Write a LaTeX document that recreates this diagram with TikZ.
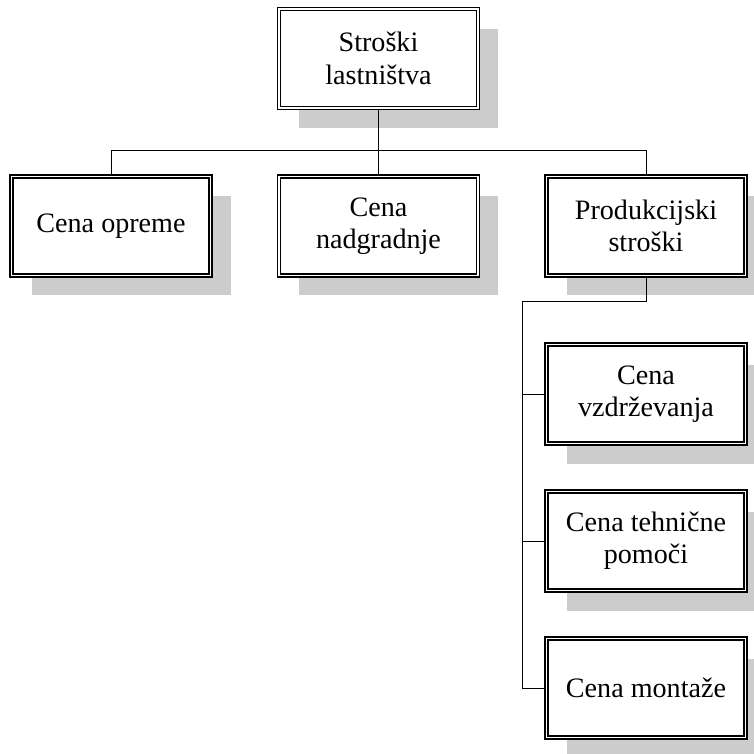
\documentclass[tikz,border=0pt]{standalone}
\usepackage{fontspec}
\setmainfont{Liberation Serif}
\usetikzlibrary{shadows}
\tikzset{kost/.style={draw,double,line width=.65pt,double distance=1.1pt,fill=white,minimum width=3.98cm,minimum height=1.98cm,align=center,font=\fontsize{16}{18.4}\selectfont,drop shadow={shadow xshift=.4cm,shadow yshift=-.4cm,fill=black!20,opacity=1}}}
\begin{document}
\begin{tikzpicture}
\useasboundingbox(0,0)rectangle(15.06,-15.08);
\node[kost](vrh)at(7.57,-1.17){Stroški\\lastništva};
\node[kost](oprema)at(2.22,-4.52){Cena opreme};
\node[kost](nadgr)at(7.57,-4.52){Cena\\nadgradnje};
\node[kost](prod)at(12.92,-4.52){Produkcijski\\stroški};
\node[kost](vzdr)at(12.92,-7.88){Cena\\vzdrževanja};
\node[kost](tehn)at(12.92,-10.82){Cena tehnične\\pomoči};
\node[kost](mont)at(12.92,-13.76){Cena montaže};
\draw(vrh.south)--++(0,-.84)coordinate(razc);
\draw(razc)-|(oprema.north);
\draw(razc)-|(prod.north);
\draw(razc)--(nadgr.north);
\draw(prod.south)--++(0,-.5)-|([xshift=-.48cm]vzdr.west)coordinate(deblo)--(vzdr.west);
\draw(deblo)|-(tehn.west);
\draw(deblo)|-(mont.west);
\end{tikzpicture}
\end{document}
